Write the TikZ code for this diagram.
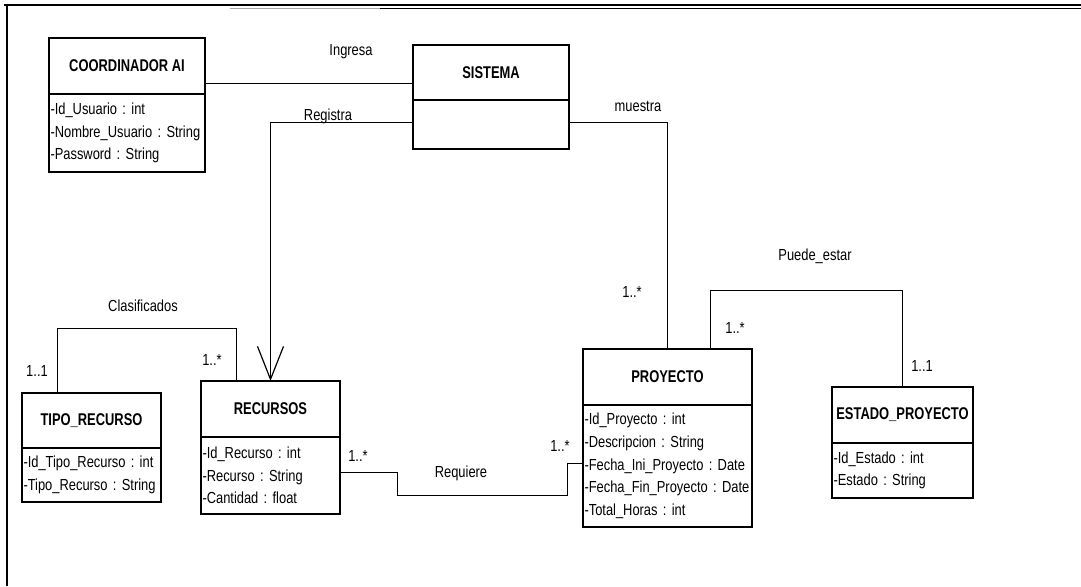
\documentclass[tikz,border=0pt]{standalone}
\usepackage{fontspec}
\setmainfont{Liberation Sans}[FakeStretch=0.806, BoldFeatures={FakeStretch=0.76}]
\usetikzlibrary{arrows.meta}
\frenchspacing
\begin{document}
\begin{tikzpicture}[x=1pt,y=-1pt,
  txt/.style={font=\fontsize{16}{19}\selectfont, inner sep=0pt},
  head/.style n args={2}{draw, line width=1.7pt, outer sep=0pt, inner sep=0pt,
    anchor=north west, minimum width=#1, minimum height=#2,
    font=\fontsize{17}{20}\selectfont\bfseries},
  attr/.style n args={3}{draw, line width=1.7pt, outer sep=0pt, inner xsep=1.5pt,
    inner ysep=0pt, anchor=north west, minimum width=#1, minimum height=#2,
    text width=#3, align=left, font=\fontsize{16}{22.7}\selectfont},
  link/.style={line width=1pt},
  mult/.style={txt}]
\useasboundingbox (0,0) rectangle (1081,586);

% page frame
\draw[line width=1.7pt] (7.3,586) -- (7.3,5.2);
\draw[line width=1.7pt] (4,5.2) -- (1081,5.2);
\draw[line width=1.2pt, black!35] (230,8.8) -- (380,8.8);
\draw[line width=1.2pt] (380,8.8) -- (1081,8.8);

% classes
\node[head={156}{56}] (cT) at (49,38) {COORDINADOR AI};
\node[attr={156}{78}{153pt}] (cA) at (49,94)
  {-Id\_Usuario : int\\-Nombre\_Usuario : String\\-Password : String};

\node[head={156}{55}] (sT) at (413,45) {SISTEMA};
\node[attr={156}{49}{153pt}] (sA) at (413,100) {};

\node[head={139}{55}] (tT) at (22,393) {TIPO\_RECURSO};
\node[attr={139}{54}{136pt}] (tA) at (22,448)
  {-Id\_Tipo\_Recurso : int\\-Tipo\_Recurso : String};

\node[head={139}{56}] (rT) at (201,381) {RECURSOS};
\node[attr={139}{77}{136pt}] (rA) at (201,437)
  {-Id\_Recurso : int\\-Recurso : String\\-Cantidad : float};

\node[head={169}{56}] (pT) at (583,349) {PROYECTO};
\node[attr={169}{122}{166pt}] (pA) at (583,405)
  {-Id\_Proyecto : int\\-Descripcion : String\\-Fecha\_Ini\_Proyecto : Date\\-Fecha\_Fin\_Proyecto : Date\\-Total\_Horas : int};

\node[head={141}{56}] (eT) at (832,387) {ESTADO\_PROYECTO};
\node[attr={141}{55}{138pt}] (eA) at (832,443)
  {-Id\_Estado : int\\-Estado : String};

% associations
\draw[link] (cT.east |- 0,83) -- (sT.west |- 0,83);
\draw[link, -{Straight Barb[length=33pt,width=26pt,line width=1.2pt]}]
  (sA.west |- 0,122) -- (rT.north |- 0,122) -- (rT.north);
\draw[link] (sA.east |- 0,122) -- (pT.north |- 0,122) -- (pT.north);
\draw[link] (tT.north -| 57,0) -- (57,328) -- (236,328) -- (rT.north -| 236,0);
\draw[link] (rA.east |- 0,472) -- (397,472) -- (397,495) -- (567,495)
  -- (567,463) -- (pA.west |- 0,463);
\draw[link] (pT.north -| 710,0) -- (710,290) -- (eT.north |- 0,290) -- (eT.north);

% association names
\node[txt] (lIngresa) at (351,52) {Ingresa};
\node[txt] (lRegistra) at (328,116) {Registra};
\node[txt] (lMuestra) at (638,106) {muestra};
\node[txt] (lClasif) at (143,306) {Clasificados};
\node[txt] (lRequiere) at (461,473) {Requiere};
\node[txt] (lPuede) at (815,256) {Puede\_estar};

% multiplicities
\node[mult] (m1) at (632,292) {1..*};
\node[mult] (m2) at (37,371) {1..1};
\node[mult] (m3) at (212,360) {1..*};
\node[mult] (m4) at (358,456) {1..*};
\node[mult] (m5) at (560,446) {1..*};
\node[mult] (m6) at (735,328) {1..*};
\node[mult] (m7) at (922,366) {1..1};
\end{tikzpicture}
\end{document}
